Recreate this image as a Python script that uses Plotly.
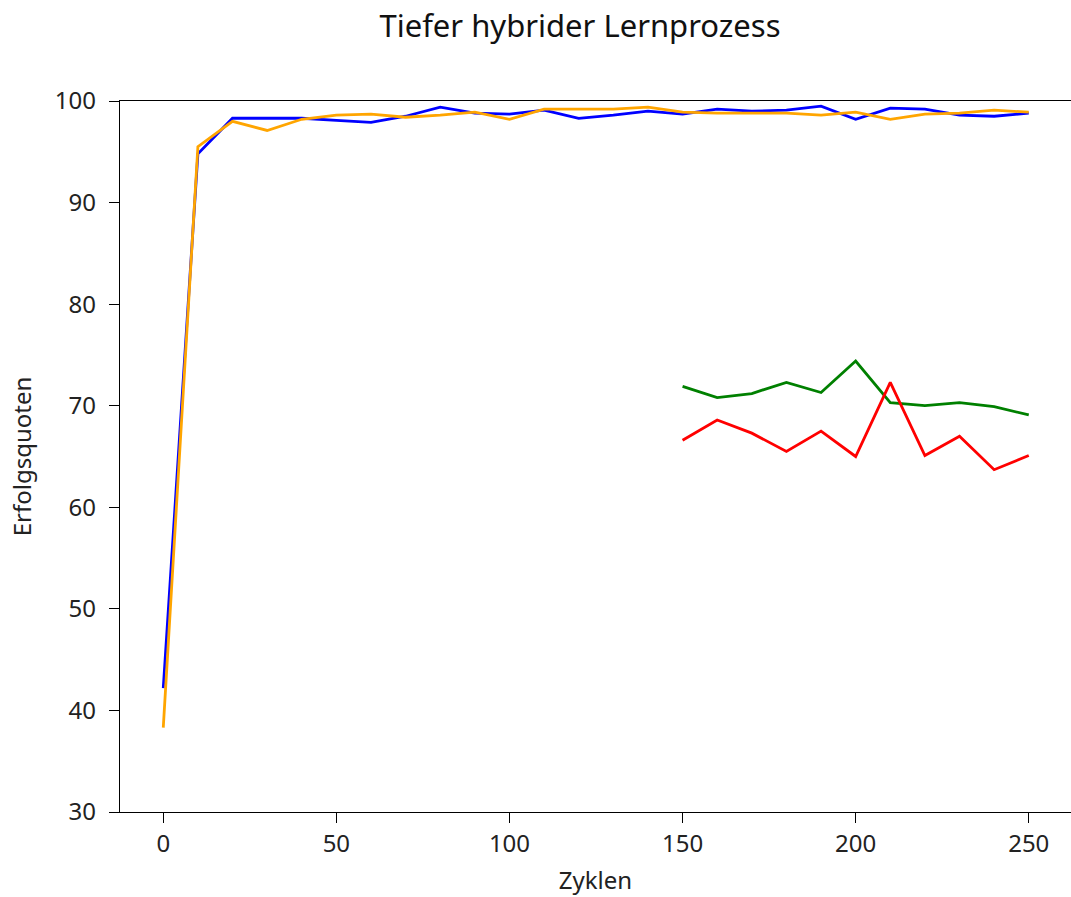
import plotly.graph_objects as go

cycles_all = [0, 10, 20, 30, 40, 50, 60, 70, 80, 90, 100, 110, 120, 130, 140, 150, 160, 170, 180, 190, 200, 210, 220, 230, 240, 250]
blue_vals = [42.2, 94.8, 98.3, 98.3, 98.3, 98.1, 97.9, 98.5, 99.4, 98.8, 98.7, 99.1, 98.3, 98.6, 99.0, 98.7, 99.2, 99.0, 99.1, 99.5, 98.2, 99.3, 99.2, 98.6, 98.5, 98.8]
orange_vals = [38.3, 95.5, 98.0, 97.1, 98.2, 98.6, 98.7, 98.4, 98.6, 98.9, 98.2, 99.2, 99.2, 99.2, 99.4, 98.9, 98.8, 98.8, 98.8, 98.6, 98.9, 98.2, 98.7, 98.8, 99.1, 98.9]

cycles_late = [150, 160, 170, 180, 190, 200, 210, 220, 230, 240, 250]
green_vals = [71.9, 70.8, 71.2, 72.3, 71.3, 74.4, 70.3, 70.0, 70.3, 69.9, 69.1]
red_vals = [66.6, 68.6, 67.3, 65.5, 67.5, 65.0, 72.3, 65.1, 67.0, 63.7, 65.1]

x_ticks = [0, 50, 100, 150, 200, 250]
y_ticks = [30, 40, 50, 60, 70, 80, 90, 100]

FONT = "Noto Sans"
TICK_SIZE = 24
LABEL_SIZE = 24

fig = go.Figure()
fig.add_trace(go.Scatter(x=cycles_all, y=blue_vals, mode="lines", line=dict(color="blue", width=2.8), showlegend=False))
fig.add_trace(go.Scatter(x=cycles_all, y=orange_vals, mode="lines", line=dict(color="orange", width=2.8), showlegend=False))
fig.add_trace(go.Scatter(x=cycles_late, y=green_vals, mode="lines", line=dict(color="green", width=2.8), showlegend=False))
fig.add_trace(go.Scatter(x=cycles_late, y=red_vals, mode="lines", line=dict(color="red", width=2.8), showlegend=False))

fig.update_layout(
    width=1071, height=897,
    margin=dict(l=120, r=0, t=101, b=85),
    paper_bgcolor="white", plot_bgcolor="white",
    font=dict(family=FONT, size=TICK_SIZE, color="#222222"),
    title=dict(text="Tiefer hybrider Lernprozess", font=dict(family=FONT, size=31, color="#111111"),
               xref="container", yref="container", x=580/1071, y=1-26/897,
               xanchor="center", yanchor="middle"),
)
fig.update_xaxes(
    range=[-12.5, 262.2], tickvals=x_ticks, ticks="outside", ticklen=10, tickwidth=1.3,
    tickcolor="black", showline=True, linecolor="black", linewidth=1.4, mirror=True,
    showgrid=False, zeroline=False, ticklabelstandoff=0,
    tickfont=dict(family=FONT, size=TICK_SIZE, color="#222222"),
    title=dict(text="Zyklen", font=dict(family=FONT, size=LABEL_SIZE, color="#222222"), standoff=14),
)
fig.update_yaxes(
    range=[30, 100], tickvals=y_ticks, ticks="outside", ticklen=10, tickwidth=1.3,
    tickcolor="black", showline=True, linecolor="black", linewidth=1.4, mirror=True,
    showgrid=False, zeroline=False, ticklabelstandoff=8,
    tickfont=dict(family=FONT, size=TICK_SIZE, color="#222222"),
    title=dict(text="Erfolgsquoten", font=dict(family=FONT, size=LABEL_SIZE, color="#222222"), standoff=16),
)

fig.write_html("out.html")
